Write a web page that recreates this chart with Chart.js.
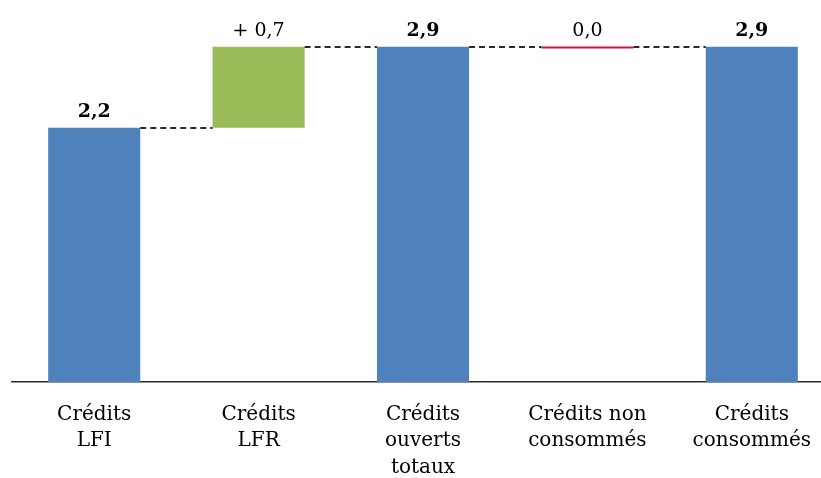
<!DOCTYPE html>
<html>
<head>
<meta charset="utf-8">
<script src="https://cdn.jsdelivr.net/npm/chart.js@4/dist/chart.umd.min.js"></script>
<style>
  html, body { margin: 0; padding: 0; background: #fff; overflow: hidden; }
  #wrap { position: relative; width: 834px; height: 500px; }
</style>
</head>
<body>
<div id="wrap"><canvas id="c"></canvas></div>
<script>
// Waterfall of credits (Md€)
const categories = [
  ['Crédits', 'LFI'],
  ['Crédits', 'LFR'],
  ['Crédits', 'ouverts', 'totaux'],
  ['Crédits non', 'consommés'],
  ['Crédits', 'consommés']
];
// Step values: totals and variations
const stepValues = [2.2, 0.7, 2.9, 0.0, 2.9];
const stepKinds = ['total', 'delta', 'total', 'delta', 'total'];
const valueLabels = ['2,2', '+ 0,7', '2,9', '0,0', '2,9'];
const kindColors = { total: '#4F81BD', up: '#9BBB59', down: '#C8163F' };

// Build floating ranges from the steps
const ranges = [];
let running = 0;
stepValues.forEach((v, i) => {
  if (stepKinds[i] === 'total') {
    ranges.push([0, v]);
    running = v;
  } else {
    const from = running;
    running = +(running + v).toFixed(4);
    ranges.push([from, running]);
  }
});
const barColors = ranges.map((r, i) => {
  if (stepKinds[i] === 'total') return kindColors.total;
  return stepValues[i] > 0 ? kindColors.up : kindColors.down;
});

const FONT = '"DejaVu Serif", "Liberation Serif", serif';

const waterfallExtras = {
  id: 'waterfallExtras',
  afterDatasetsDraw(chart) {
    const ctx = chart.ctx;
    const meta = chart.getDatasetMeta(0);
    const y = chart.scales.y;
    ctx.save();
    // zero-height steps drawn as a thin line
    meta.data.forEach((bar, i) => {
      const r = ranges[i];
      if (r[0] === r[1]) {
        const half = bar.width / 2;
        const py = Math.round(y.getPixelForValue(r[1])) + 0.5;
        ctx.strokeStyle = barColors[i];
        ctx.lineWidth = 2;
        ctx.setLineDash([]);
        ctx.beginPath();
        ctx.moveTo(bar.x - half, py);
        ctx.lineTo(bar.x + half, py);
        ctx.stroke();
      }
    });
    // dashed connectors between consecutive steps
    ctx.strokeStyle = '#2a2a2a';
    ctx.lineWidth = 2;
    ctx.setLineDash([6, 4]);
    for (let i = 0; i < meta.data.length - 1; i++) {
      const a = meta.data[i], b = meta.data[i + 1];
      const level = ranges[i][1];
      const py = Math.round(y.getPixelForValue(level));
      ctx.beginPath();
      ctx.moveTo(a.x + a.width / 2, py);
      ctx.lineTo(b.x - b.width / 2, py);
      ctx.stroke();
    }
    // value labels above each step
    ctx.setLineDash([]);
    ctx.fillStyle = '#000';
    ctx.textAlign = 'center';
    ctx.textBaseline = 'alphabetic';
    meta.data.forEach((bar, i) => {
      const top = Math.max(ranges[i][0], ranges[i][1]);
      const py = y.getPixelForValue(top);
      const bold = stepKinds[i] === 'total';
      ctx.font = (bold ? 'bold ' : '') + '19px ' + FONT;
      ctx.fillText(valueLabels[i], bar.x, py - 11);
    });
    ctx.restore();
  }
};

new Chart(document.getElementById('c'), {
  type: 'bar',
  data: {
    labels: categories,
    datasets: [{
      data: ranges,
      backgroundColor: barColors,
      borderWidth: 0,
      categoryPercentage: 1,
      barPercentage: 0.56
    }]
  },
  options: {
    responsive: true,
    maintainAspectRatio: false,
    animation: false,
    layout: { padding: { left: 12, right: 0, top: 12, bottom: 0 } },
    plugins: { legend: { display: false }, tooltip: { enabled: false } },
    scales: {
      x: {
        grid: { display: false, drawTicks: false },
        border: { display: true, color: '#2a2a2a', width: 1.5 },
        ticks: {
          color: '#000',
          maxRotation: 0,
          autoSkip: false,
          padding: 19,
          font: { family: FONT, size: 20, lineHeight: 1.33 }
        }
      },
      y: {
        display: false,
        min: 0,
        max: 3.2
      }
    }
  },
  plugins: [waterfallExtras]
});
</script>
</body>
</html>
